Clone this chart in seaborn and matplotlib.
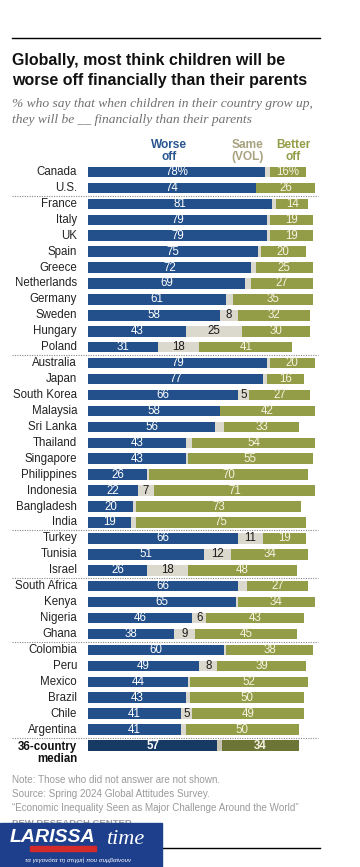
import matplotlib
matplotlib.use("Agg")
import matplotlib.pyplot as plt
import seaborn as sns

plt.rcParams['font.family'] = ['Liberation Sans', 'DejaVu Sans']

# Data
countries = ['Canada', 'U.S.',
             'France', 'Italy', 'UK', 'Spain', 'Greece', 'Netherlands', 'Germany',
             'Sweden', 'Hungary', 'Poland',
             'Australia', 'Japan', 'South Korea', 'Malaysia', 'Sri Lanka', 'Thailand',
             'Singapore', 'Philippines', 'Indonesia', 'Bangladesh', 'India',
             'Turkey', 'Tunisia', 'Israel',
             'South Africa', 'Kenya', 'Nigeria', 'Ghana',
             'Colombia', 'Peru', 'Mexico', 'Brazil', 'Chile', 'Argentina',
             '36-country median']
worse = [78, 74,
         81, 79, 79, 75, 72, 69, 61, 58, 43, 31,
         79, 77, 66, 58, 56, 43, 43, 26, 22, 20, 19,
         66, 51, 26,
         66, 65, 46, 38,
         60, 49, 44, 43, 41, 41,
         57]
same = [2, 0,
        2, 1, 1, 1, 2, 3, 3, 8, 25, 18,
        1, 2, 5, 0, 4, 3, 1, 1, 7, 1, 2,
        11, 12, 18,
        4, 1, 6, 9,
        1, 8, 1, 2, 5, 2,
        2]
better = [16, 26,
          14, 19, 19, 20, 25, 27, 35, 32, 30, 41,
          20, 16, 27, 42, 33, 54, 55, 70, 71, 73, 75,
          19, 34, 48,
          27, 34, 43, 45,
          38, 39, 52, 50, 49, 50,
          34]
group_ends = ['U.S.', 'Poland', 'India', 'Israel', 'Ghana', 'Argentina']

BLUE, OLIVE, GREY = '#234f8a', '#939c47', '#dbd8cd'
BLUE_MED, OLIVE_MED, GREY_MED = '#163a63', '#6c7535', '#c9c5b5'

W, H = 360, 867
fig = plt.figure(figsize=(W / 100, H / 100), dpi=100)


def fx(x):
    return x / W


def fy(y):
    return 1 - y / H


# bars area: value 0 at x=88px, 100 at x=315px
top, bot = 164.0, 753.5
ax = fig.add_axes([fx(88), fy(bot), (315 - 88) / W, (bot - top) / H])

n = len(countries)
mid_w = [w + s for w, s in zip(worse, same)]
total = [w + s + b for w, s, b in zip(worse, same, better)]
pal_b = {c: (OLIVE_MED if i == n - 1 else OLIVE) for i, c in enumerate(countries)}
pal_s = {c: (GREY_MED if i == n - 1 else GREY) for i, c in enumerate(countries)}
pal_w = {c: (BLUE_MED if i == n - 1 else BLUE) for i, c in enumerate(countries)}

for vals, pal in [(total, pal_b), (mid_w, pal_s), (worse, pal_w)]:
    sns.barplot(x=vals, y=countries, hue=countries, palette=pal, legend=False,
                orient='h', saturation=1, width=0.66, linewidth=0, ax=ax)

ax.set_xlim(0, 100)
ax.set_ylim(n - 0.5, -0.5)
ax.axis('off')

fs = 8.3
for i, c in enumerate(countries):
    last = i == n - 1
    wt = 'bold' if last else 'normal'
    if last:
        ax.text(-4.8, i - 0.3, '36-country\nmedian', ha='right', va='top',
                fontsize=fs, fontweight='bold', color='#111111', linespacing=1.0,
                clip_on=False)
    else:
        ax.text(-4.8, i, c, ha='right', va='center', fontsize=fs, color='#222222')
    wl = f'{worse[i]}%' if i == 0 else str(worse[i])
    bl = f'{better[i]}%' if i == 0 else str(better[i])
    ax.text(worse[i] / 2, i, wl, ha='center', va='center', fontsize=fs,
            color='white', fontweight=wt)
    if same[i] >= 5:
        ax.text(worse[i] + same[i] / 2, i, str(same[i]), ha='center', va='center',
                fontsize=fs, color='#1a1a1a')
    ax.text(worse[i] + same[i] + better[i] / 2, i, bl, ha='center', va='center',
            fontsize=fs, color='#f6f3e2', fontweight=wt)

# dotted group separators
for c in group_ends:
    k = countries.index(c) + 0.5
    ax.plot([-33.5, 101.5], [k, k], linestyle=(0, (1, 1.2)), color='#888888',
            lw=0.8, clip_on=False)

# column headers
fig.text(fx(169), fy(151), 'Worse\noff', ha='center', va='center', fontsize=8.6,
         fontweight='bold', color='#2a5690', linespacing=1.0)
fig.text(fx(248), fy(151), 'Same\n(VOL)', ha='center', va='center', fontsize=8.6,
         fontweight='bold', color='#a8a27e', linespacing=1.0)
fig.text(fx(293), fy(151), 'Better\noff', ha='center', va='center', fontsize=8.6,
         fontweight='bold', color='#939c47', linespacing=1.0)

# top rule, title, subtitle
fig.add_artist(plt.Line2D([fx(12), fx(320)], [fy(38), fy(38)], color='black', lw=1))
fig.text(fx(12), fy(61), 'Globally, most think children will be', ha='left',
         va='center', fontsize=11.5, fontweight='bold', color='#111111')
fig.text(fx(12), fy(81), 'worse off financially than their parents', ha='left',
         va='center', fontsize=11.5, fontweight='bold', color='#111111')
fig.text(fx(12), fy(104), '% who say that when children in their country grow up,',
         ha='left', va='center', fontsize=9.7, style='italic', color='#707070',
         family=['Liberation Serif', 'DejaVu Serif'])
fig.text(fx(12), fy(120), 'they will be __ financially than their parents',
         ha='left', va='center', fontsize=9.7, style='italic', color='#707070',
         family=['Liberation Serif', 'DejaVu Serif'])

# footer
notes = ['Note: Those who did not answer are not shown.',
         'Source: Spring 2024 Global Attitudes Survey.',
         '\u201cEconomic Inequality Seen as Major Challenge Around the World\u201d']
for j, t in enumerate(notes):
    fig.text(fx(12), fy(780 + 13.8 * j), t, ha='left', va='center', fontsize=7.1,
             color='#9a9a9a')
fig.text(fx(12), fy(824), 'PEW RESEARCH CENTER', ha='left', va='center',
         fontsize=6.8, fontweight='bold', color='#9a9a9a')

fig.add_artist(plt.Line2D([fx(162), fx(320)], [fy(848), fy(848)], color='black', lw=1))

# logo block
fig.add_artist(plt.Rectangle((0, 0), fx(162), (867 - 823) / H,
                             transform=fig.transFigure, color='#1e3f8c', zorder=5))
fig.add_artist(plt.Rectangle((fx(30), fy(851)), fx(66), 5 / H,
                             transform=fig.transFigure, color='#d42a2a', zorder=6))
fig.text(fx(10), fy(838), 'LARISSA', ha='left', va='center', fontsize=14,
         fontweight='bold', style='italic', color='white', zorder=7)
fig.text(fx(106), fy(840), 'time', ha='left', va='center', fontsize=16,
         style='italic', color='white', zorder=7,
         family=['Liberation Serif', 'DejaVu Serif'])
fig.text(fx(78), fy(860), '\u03c4\u03b1 \u03b3\u03b5\u03b3\u03bf\u03bd\u03cc\u03c4\u03b1 '
         '\u03c4\u03b7 \u03c3\u03c4\u03b9\u03b3\u03bc\u03ae \u03c0\u03bf\u03c5 '
         '\u03c3\u03c5\u03bc\u03b2\u03b1\u03af\u03bd\u03bf\u03c5\u03bd',
         ha='center', va='center', fontsize=4.5, style='italic', color='white',
         zorder=7)

fig.savefig('out.png', dpi=100)
